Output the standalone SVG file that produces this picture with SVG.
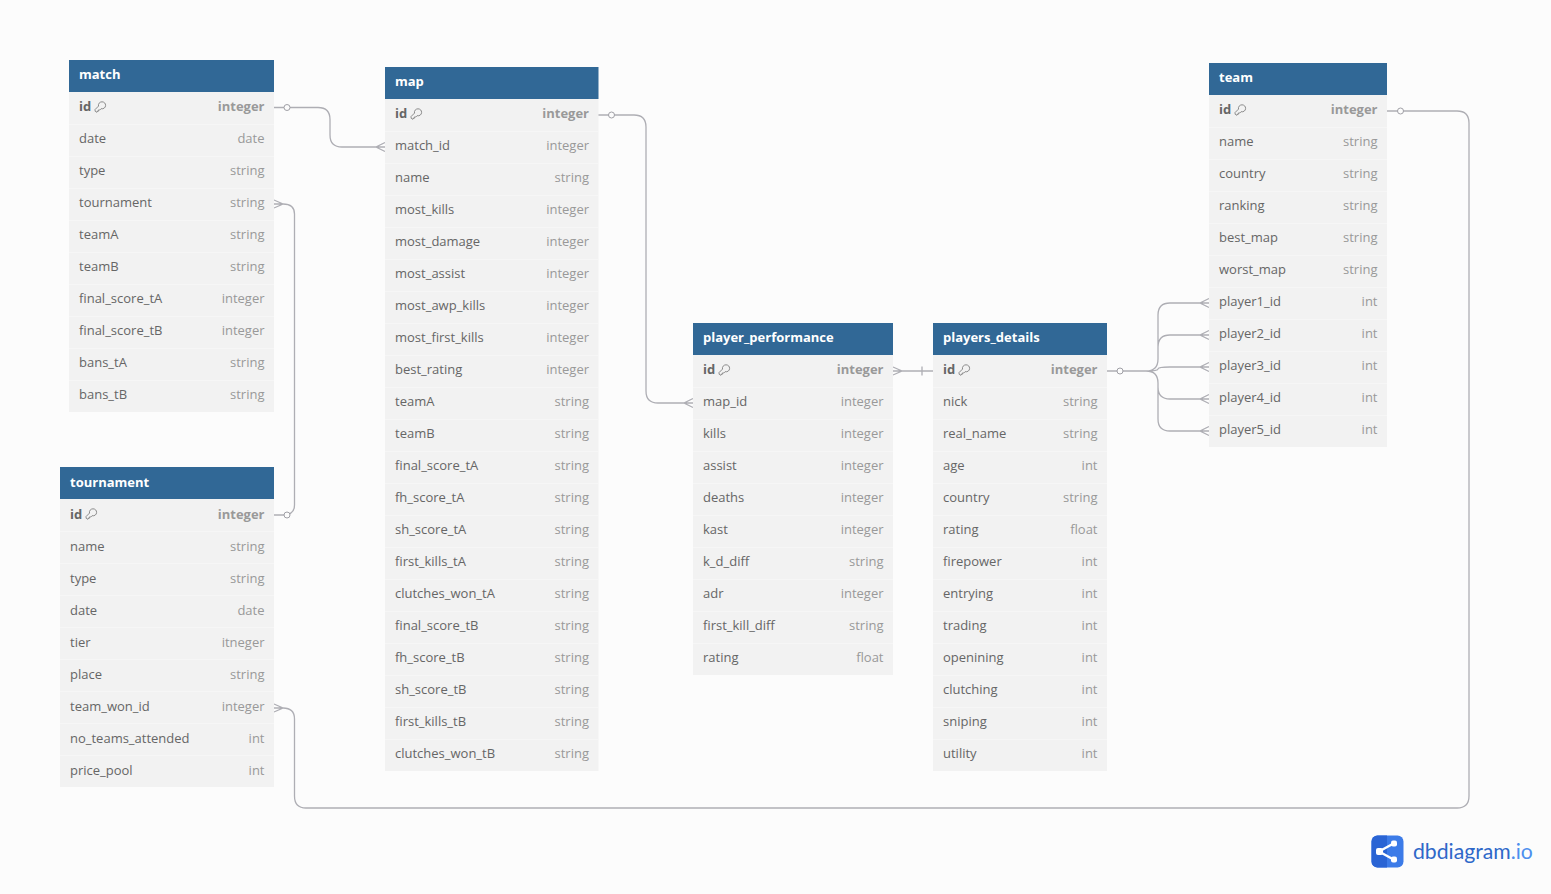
<svg xmlns="http://www.w3.org/2000/svg" width="1551" height="894" viewBox="0 0 1551 894">
<style>
text{font-family:"Open Sans","Noto Sans",sans-serif;font-size:13px}
.bg{fill:#fcfcfc}
.body{fill:#f2f2f2}
.head{fill:#316896}
.sep{stroke:#f6f6f6;stroke-width:1}
.title{fill:#fff;font-weight:700}
.n{fill:#666}
.t{fill:#999;text-anchor:end}
.pk{font-weight:700}
.c{fill:none;stroke:#aeaeb4;stroke-width:1.300}
.k{fill:none;stroke:#808080;stroke-width:.9}
.o{fill:#fcfcfc;stroke:#a0a0a6;stroke-width:1}
</style>
<defs>
<g id="key"><path class="k" d="M1.200 10.300 1 8.600 4.500 5.100C3.900 2.900 5.700 .8 8 .8 10.200 .8 11.600 2.500 11.600 4.400 11.600 6.700 9.400 8.300 7.100 7.700L5.800 9 4.300 9 4.300 10.300 3 10.400 2.800 11.300Z"/></g>
</defs>
<rect class="bg" width="1551" height="894"/>
<g id="connectors">
<path class="c" d="M274 107.500H318Q330 107.500 330 119.500V135Q330 147 342 147H385M385 142.500 376 147 385 151.500"/>
<circle class="o" cx="287" cy="107.500" r="3"/>
<path class="c" d="M274 204H283Q294.500 204 294.500 214V505Q294.500 515 283 515H274M274 200 283 204 274 208"/>
<circle class="o" cx="287" cy="515" r="3"/>
<path class="c" d="M598 115H634Q646 115 646 127V391Q646 403 658 403H693M693 398.500 684 403 693 407.500"/>
<circle class="o" cx="611.500" cy="115" r="3"/>
<path class="c" d="M893 371H933M893 367 902 371 893 375M922 366.500V375.500"/>
<path class="c" d="M1107 371H1146Q1158 371 1158 359V315Q1158 303 1170 303H1209M1107 371H1146Q1158 371 1158 359V347Q1158 335 1170 335H1209M1107 371H1146Q1158 371 1158 369 1158 367 1170 367H1209M1107 371H1146Q1158 371 1158 383V387Q1158 399 1170 399H1209M1107 371H1146Q1158 371 1158 383V419Q1158 431 1170 431H1209M1209 298.500 1200 303 1209 307.500M1209 330.500 1200 335 1209 339.500M1209 362.500 1200 367 1209 371.500M1209 394.500 1200 399 1209 403.500M1209 426.500 1200 431 1209 435.500"/>
<circle class="o" cx="1120" cy="371" r="3"/>
<path class="c" d="M1387 111H1457Q1469 111 1469 123V796Q1469 808 1457 808H306Q294.500 808 294.500 796V719Q294.500 708 283 708H274M274 704 283 708 274 712"/>
<circle class="o" cx="1400.500" cy="111" r="3"/>
</g>

<g id="match">
<rect class="body" x="69" y="92" width="205" height="320"/>
<path class="sep" d="M69 124.500H274M69 156.500H274M69 188.500H274M69 220.500H274M69 252.500H274M69 284.500H274M69 316.500H274M69 348.500H274M69 380.500H274"/>
<rect class="head" x="69" y="60" width="205" height="32"/>
<text class="title" x="79" y="79">match</text>
<text class="n pk" x="79" y="111">id</text><use href="#key" x="94" y="101"/><text class="t pk" x="264.500" y="111">integer</text>
<text class="n" x="79" y="143">date</text><text class="t" x="264.500" y="143">date</text>
<text class="n" x="79" y="175">type</text><text class="t" x="264.500" y="175">string</text>
<text class="n" x="79" y="207">tournament</text><text class="t" x="264.500" y="207">string</text>
<text class="n" x="79" y="239">teamA</text><text class="t" x="264.500" y="239">string</text>
<text class="n" x="79" y="271">teamB</text><text class="t" x="264.500" y="271">string</text>
<text class="n" x="79" y="303">final_score_tA</text><text class="t" x="264.500" y="303">integer</text>
<text class="n" x="79" y="335">final_score_tB</text><text class="t" x="264.500" y="335">integer</text>
<text class="n" x="79" y="367">bans_tA</text><text class="t" x="264.500" y="367">string</text>
<text class="n" x="79" y="399">bans_tB</text><text class="t" x="264.500" y="399">string</text>
</g>

<g id="tournament">
<rect class="body" x="60" y="499" width="214" height="288"/>
<path class="sep" d="M60 531.500H274M60 563.500H274M60 595.500H274M60 627.500H274M60 659.500H274M60 691.500H274M60 723.500H274M60 755.500H274"/>
<rect class="head" x="60" y="467" width="214" height="32"/>
<text class="title" x="70" y="487">tournament</text>
<text class="n pk" x="70" y="519">id</text><use href="#key" x="85" y="508"/><text class="t pk" x="264.500" y="519">integer</text>
<text class="n" x="70" y="551">name</text><text class="t" x="264.500" y="551">string</text>
<text class="n" x="70" y="583">type</text><text class="t" x="264.500" y="583">string</text>
<text class="n" x="70" y="615">date</text><text class="t" x="264.500" y="615">date</text>
<text class="n" x="70" y="647">tier</text><text class="t" x="264.500" y="647">itneger</text>
<text class="n" x="70" y="679">place</text><text class="t" x="264.500" y="679">string</text>
<text class="n" x="70" y="711">team_won_id</text><text class="t" x="264.500" y="711">integer</text>
<text class="n" x="70" y="743">no_teams_attended</text><text class="t" x="264.500" y="743">int</text>
<text class="n" x="70" y="775">price_pool</text><text class="t" x="264.500" y="775">int</text>
</g>

<g id="map">
<rect class="body" x="385" y="99" width="213.500" height="672"/>
<path class="sep" d="M385 131.500H598.500M385 163.500H598.500M385 195.500H598.500M385 227.500H598.500M385 259.500H598.500M385 291.500H598.500M385 323.500H598.500M385 355.500H598.500M385 387.500H598.500M385 419.500H598.500M385 451.500H598.500M385 483.500H598.500M385 515.500H598.500M385 547.500H598.500M385 579.500H598.500M385 611.500H598.500M385 643.500H598.500M385 675.500H598.500M385 707.500H598.500M385 739.500H598.500"/>
<rect class="head" x="385" y="67" width="213.500" height="32"/>
<text class="title" x="395" y="86">map</text>
<text class="n pk" x="395" y="118">id</text><use href="#key" x="410" y="108"/><text class="t pk" x="589" y="118">integer</text>
<text class="n" x="395" y="150">match_id</text><text class="t" x="589" y="150">integer</text>
<text class="n" x="395" y="182">name</text><text class="t" x="589" y="182">string</text>
<text class="n" x="395" y="214">most_kills</text><text class="t" x="589" y="214">integer</text>
<text class="n" x="395" y="246">most_damage</text><text class="t" x="589" y="246">integer</text>
<text class="n" x="395" y="278">most_assist</text><text class="t" x="589" y="278">integer</text>
<text class="n" x="395" y="310">most_awp_kills</text><text class="t" x="589" y="310">integer</text>
<text class="n" x="395" y="342">most_first_kills</text><text class="t" x="589" y="342">integer</text>
<text class="n" x="395" y="374">best_rating</text><text class="t" x="589" y="374">integer</text>
<text class="n" x="395" y="406">teamA</text><text class="t" x="589" y="406">string</text>
<text class="n" x="395" y="438">teamB</text><text class="t" x="589" y="438">string</text>
<text class="n" x="395" y="470">final_score_tA</text><text class="t" x="589" y="470">string</text>
<text class="n" x="395" y="502">fh_score_tA</text><text class="t" x="589" y="502">string</text>
<text class="n" x="395" y="534">sh_score_tA</text><text class="t" x="589" y="534">string</text>
<text class="n" x="395" y="566">first_kills_tA</text><text class="t" x="589" y="566">string</text>
<text class="n" x="395" y="598">clutches_won_tA</text><text class="t" x="589" y="598">string</text>
<text class="n" x="395" y="630">final_score_tB</text><text class="t" x="589" y="630">string</text>
<text class="n" x="395" y="662">fh_score_tB</text><text class="t" x="589" y="662">string</text>
<text class="n" x="395" y="694">sh_score_tB</text><text class="t" x="589" y="694">string</text>
<text class="n" x="395" y="726">first_kills_tB</text><text class="t" x="589" y="726">string</text>
<text class="n" x="395" y="758">clutches_won_tB</text><text class="t" x="589" y="758">string</text>
</g>

<g id="player_performance">
<rect class="body" x="693" y="355" width="200" height="320"/>
<path class="sep" d="M693 387.500H893M693 419.500H893M693 451.500H893M693 483.500H893M693 515.500H893M693 547.500H893M693 579.500H893M693 611.500H893M693 643.500H893"/>
<rect class="head" x="693" y="323" width="200" height="32"/>
<text class="title" x="703" y="342">player_performance</text>
<text class="n pk" x="703" y="374">id</text><use href="#key" x="718" y="364"/><text class="t pk" x="883.500" y="374">integer</text>
<text class="n" x="703" y="406">map_id</text><text class="t" x="883.500" y="406">integer</text>
<text class="n" x="703" y="438">kills</text><text class="t" x="883.500" y="438">integer</text>
<text class="n" x="703" y="470">assist</text><text class="t" x="883.500" y="470">integer</text>
<text class="n" x="703" y="502">deaths</text><text class="t" x="883.500" y="502">integer</text>
<text class="n" x="703" y="534">kast</text><text class="t" x="883.500" y="534">integer</text>
<text class="n" x="703" y="566">k_d_diff</text><text class="t" x="883.500" y="566">string</text>
<text class="n" x="703" y="598">adr</text><text class="t" x="883.500" y="598">integer</text>
<text class="n" x="703" y="630">first_kill_diff</text><text class="t" x="883.500" y="630">string</text>
<text class="n" x="703" y="662">rating</text><text class="t" x="883.500" y="662">float</text>
</g>

<g id="players_details">
<rect class="body" x="933" y="355" width="174" height="416"/>
<path class="sep" d="M933 387.500H1107M933 419.500H1107M933 451.500H1107M933 483.500H1107M933 515.500H1107M933 547.500H1107M933 579.500H1107M933 611.500H1107M933 643.500H1107M933 675.500H1107M933 707.500H1107M933 739.500H1107"/>
<rect class="head" x="933" y="323" width="174" height="32"/>
<text class="title" x="943" y="342">players_details</text>
<text class="n pk" x="943" y="374">id</text><use href="#key" x="958" y="364"/><text class="t pk" x="1097.500" y="374">integer</text>
<text class="n" x="943" y="406">nick</text><text class="t" x="1097.500" y="406">string</text>
<text class="n" x="943" y="438">real_name</text><text class="t" x="1097.500" y="438">string</text>
<text class="n" x="943" y="470">age</text><text class="t" x="1097.500" y="470">int</text>
<text class="n" x="943" y="502">country</text><text class="t" x="1097.500" y="502">string</text>
<text class="n" x="943" y="534">rating</text><text class="t" x="1097.500" y="534">float</text>
<text class="n" x="943" y="566">firepower</text><text class="t" x="1097.500" y="566">int</text>
<text class="n" x="943" y="598">entrying</text><text class="t" x="1097.500" y="598">int</text>
<text class="n" x="943" y="630">trading</text><text class="t" x="1097.500" y="630">int</text>
<text class="n" x="943" y="662">openining</text><text class="t" x="1097.500" y="662">int</text>
<text class="n" x="943" y="694">clutching</text><text class="t" x="1097.500" y="694">int</text>
<text class="n" x="943" y="726">sniping</text><text class="t" x="1097.500" y="726">int</text>
<text class="n" x="943" y="758">utility</text><text class="t" x="1097.500" y="758">int</text>
</g>

<g id="team">
<rect class="body" x="1209" y="95" width="178" height="352"/>
<path class="sep" d="M1209 127.500H1387M1209 159.500H1387M1209 191.500H1387M1209 223.500H1387M1209 255.500H1387M1209 287.500H1387M1209 319.500H1387M1209 351.500H1387M1209 383.500H1387M1209 415.500H1387"/>
<rect class="head" x="1209" y="63" width="178" height="32"/>
<text class="title" x="1219" y="82">team</text>
<text class="n pk" x="1219" y="114">id</text><use href="#key" x="1234" y="104"/><text class="t pk" x="1377.500" y="114">integer</text>
<text class="n" x="1219" y="146">name</text><text class="t" x="1377.500" y="146">string</text>
<text class="n" x="1219" y="178">country</text><text class="t" x="1377.500" y="178">string</text>
<text class="n" x="1219" y="210">ranking</text><text class="t" x="1377.500" y="210">string</text>
<text class="n" x="1219" y="242">best_map</text><text class="t" x="1377.500" y="242">string</text>
<text class="n" x="1219" y="274">worst_map</text><text class="t" x="1377.500" y="274">string</text>
<text class="n" x="1219" y="306">player1_id</text><text class="t" x="1377.500" y="306">int</text>
<text class="n" x="1219" y="338">player2_id</text><text class="t" x="1377.500" y="338">int</text>
<text class="n" x="1219" y="370">player3_id</text><text class="t" x="1377.500" y="370">int</text>
<text class="n" x="1219" y="402">player4_id</text><text class="t" x="1377.500" y="402">int</text>
<text class="n" x="1219" y="434">player5_id</text><text class="t" x="1377.500" y="434">int</text>
</g>

<g id="logo">
<rect x="1371.500" y="835.500" width="32" height="32" rx="6" fill="#3c7be8"/>
<path d="M1371.500 841.500a6 6 0 0 1 6-6H1387V867.500H1377.500a6 6 0 0 1-6-6Z" fill="#2a64d4"/>
<path d="M1379 851.500 1393.500 843.500M1379 851.500 1393.500 859.500" stroke="#fff" stroke-width="2.500" fill="none"/>
<rect x="1376" y="848" width="7" height="7" rx="2" fill="#fff"/><rect x="1391" y="840.500" width="6" height="6" rx="2" fill="#fff"/><rect x="1391" y="856.500" width="6" height="6" rx="2" fill="#fff"/>
<text x="1413" y="858.500" style="font-family:Lato,'Open Sans',sans-serif;font-size:21.200px" fill="#2f68c9">dbdiagram<tspan fill="#4d8fee">.io</tspan></text>
</g>
</svg>
